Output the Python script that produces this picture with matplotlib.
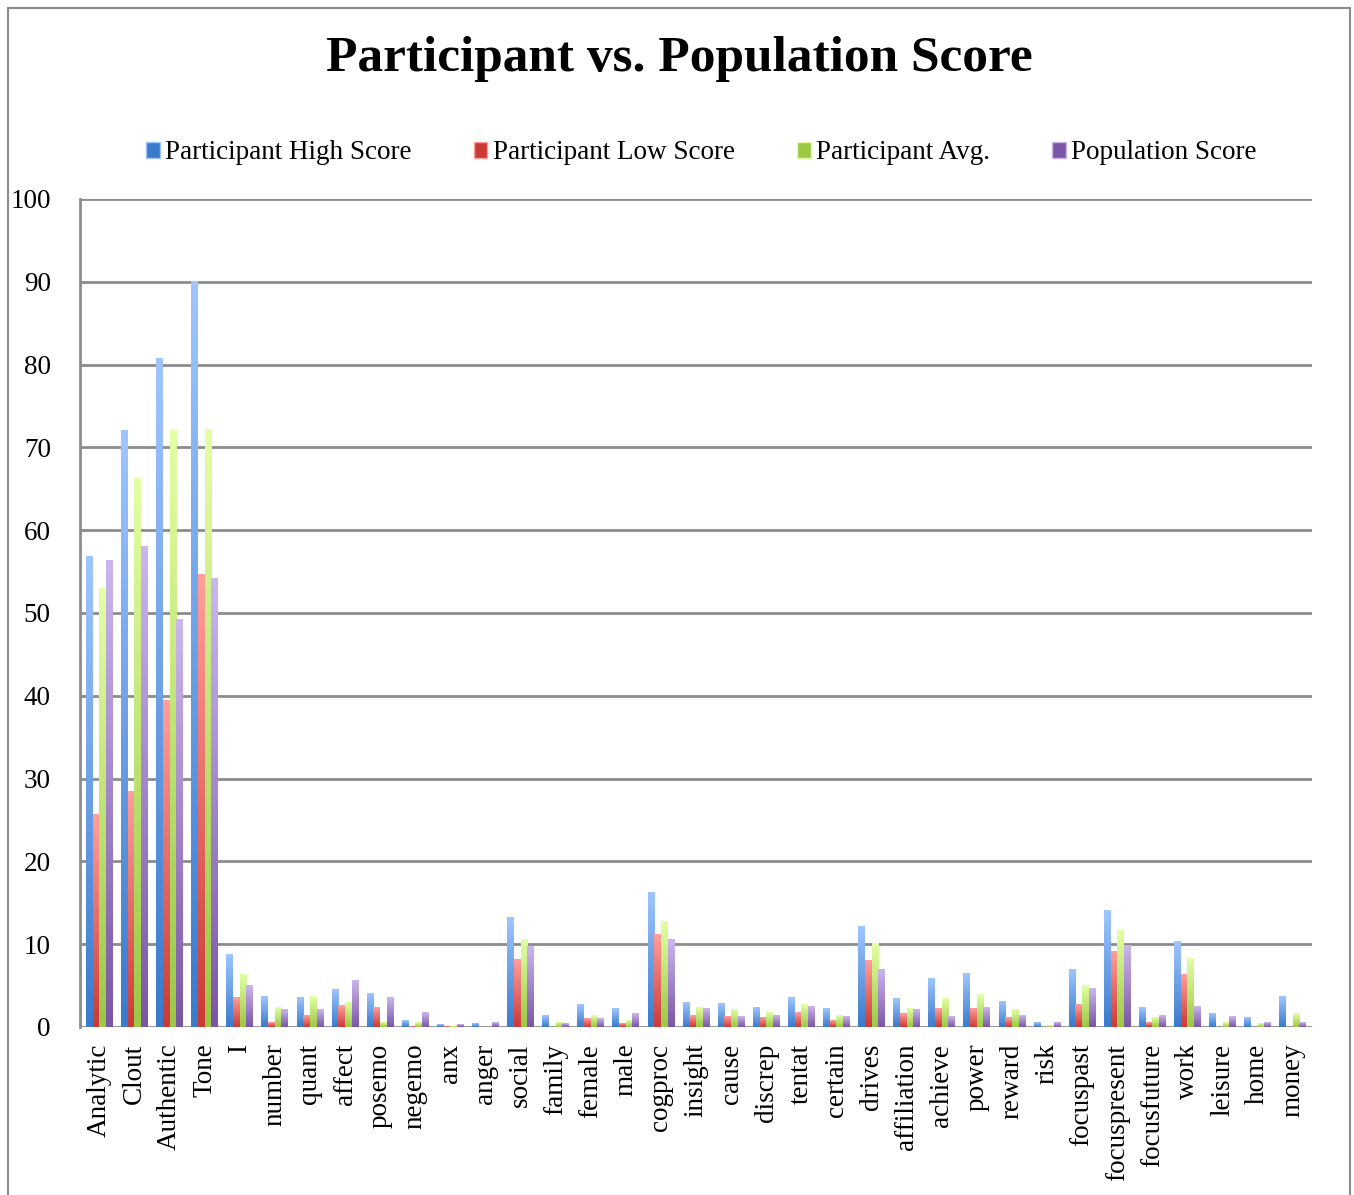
import numpy as np
import matplotlib
matplotlib.use("Agg")
import matplotlib.pyplot as plt
from matplotlib.colors import LinearSegmentedColormap
from matplotlib.patches import Rectangle

categories = ["Analytic", "Clout", "Authentic", "Tone", "I", "number", "quant",
              "affect", "posemo", "negemo", "anx", "anger", "social", "family",
              "female", "male", "cogproc", "insight", "cause", "discrep", "tentat",
              "certain", "drives", "affiliation", "achieve", "power", "reward",
              "risk", "focuspast", "focuspresent", "focusfuture", "work",
              "leisure", "home", "money"]

high_score = [56.8, 72.1, 80.7, 90.0, 8.7, 3.7, 3.6, 4.5, 4.0, 0.8, 0.3, 0.4,
              13.2, 1.4, 2.7, 2.2, 16.2, 2.9, 2.8, 2.4, 3.6, 2.2, 12.1, 3.4,
              5.9, 6.5, 3.1, 0.5, 6.9, 14.1, 2.4, 10.3, 1.6, 1.1, 3.7]
low_score = [25.7, 28.4, 39.4, 54.7, 3.6, 0.5, 1.4, 2.6, 2.3, 0.1, 0.05, 0.0,
             8.2, 0.0, 1.0, 0.4, 11.2, 1.4, 1.3, 1.2, 1.7, 0.8, 8.0, 1.6,
             2.2, 2.2, 1.2, 0.0, 2.7, 9.1, 0.5, 6.4, 0.0, 0.0, 0.0]
avg_score = [53.0, 66.2, 72.0, 72.2, 6.3, 2.3, 3.7, 3.0, 0.6, 0.6, 0.1, 0.0,
             10.6, 0.5, 1.4, 0.8, 12.8, 2.3, 2.1, 1.7, 2.7, 1.4, 10.1, 2.2,
             3.5, 3.9, 2.1, 0.2, 5.0, 11.7, 1.2, 8.3, 0.5, 0.4, 1.6]
pop_score = [56.3, 58.0, 49.2, 54.2, 5.0, 2.1, 2.1, 5.6, 3.6, 1.8, 0.3, 0.5,
             9.7, 0.4, 1.0, 1.6, 10.6, 2.2, 1.3, 1.4, 2.5, 1.3, 6.9, 2.1,
             1.3, 2.3, 1.4, 0.5, 4.6, 9.9, 1.4, 2.5, 1.3, 0.5, 0.6]

series_names = ["Participant High Score", "Participant Low Score",
                "Participant Avg.", "Population Score"]
series_values = [high_score, low_score, avg_score, pop_score]
# (top colour, bottom colour) for the gradient fill
series_colors = [("#9fc5ff", "#3a7bcc"), ("#ff9e9b", "#cc3a36"),
                 ("#e2ffa3", "#9cc846"), ("#cbb6ec", "#7a57a6")]

serif = ["Liberation Serif", "DejaVu Serif"]

fig = plt.figure(figsize=(13.54, 11.95), dpi=100)
ax = fig.add_axes([0.0591, 0.1406, 0.9099, 0.6929])

x = np.arange(len(categories))
width = 0.19
offsets = (np.arange(4) - 1.5) * width

grad = np.linspace(0, 1, 64).reshape(-1, 1)
handles = []
for vals, name, (top, bottom), off in zip(series_values, series_names,
                                          series_colors, offsets):
    cmap = LinearSegmentedColormap.from_list(name, [bottom, top])
    bars = ax.bar(x + off, vals, width=width, color=bottom, alpha=0.0, zorder=3)
    # gradient fill, light at the top of each bar, dark at the base
    for b in bars:
        h = b.get_height()
        if h <= 0:
            continue
        ax.imshow(grad, extent=[b.get_x(), b.get_x() + b.get_width(), 0, h],
                  origin="lower", aspect="auto", cmap=cmap, zorder=3,
                  interpolation="bilinear")
    handles.append(Rectangle((0, 0), 1, 1, facecolor=bottom, edgecolor=top))

ax.set_xlim(-0.55, len(categories) - 0.45)
ax.set_ylim(0, 100)
ax.set_yticks(np.arange(0, 101, 10))
ax.set_yticklabels([str(v) for v in range(0, 101, 10)],
                   fontfamily=serif, fontsize=19.5)
ax.set_xticks(x)
ax.set_xticklabels(categories, rotation=90, fontfamily=serif, fontsize=19.5,
                   va="top")
ax.tick_params(length=0, pad=12)
ax.tick_params(axis="y", pad=21)

ax.yaxis.grid(True, color="#8c8c8c", linewidth=2, zorder=1)
ax.set_axisbelow(True)
for s in ["top", "right", "bottom"]:
    ax.spines[s].set_visible(False)
ax.spines["left"].set_color("#8c8c8c")
ax.spines["left"].set_linewidth(2)

fig.text(0.502, 0.951, "Participant vs. Population Score", ha="center",
         va="center", fontsize=37, fontweight="bold", fontfamily=serif)

fig.legend(handles, series_names, loc="center", bbox_to_anchor=(0.518, 0.872),
           ncol=4, frameon=False, prop={"family": serif, "size": 19.5},
           handlelength=0.5, handleheight=0.5, handletextpad=0.2,
           columnspacing=2.3)

# outer chart border
fig.patches.append(Rectangle((0.006, -0.01), 0.991, 1.003,
                             transform=fig.transFigure, fill=False,
                             edgecolor="#8c8c8c", linewidth=1.5))

fig.savefig("out.png", dpi=100)
